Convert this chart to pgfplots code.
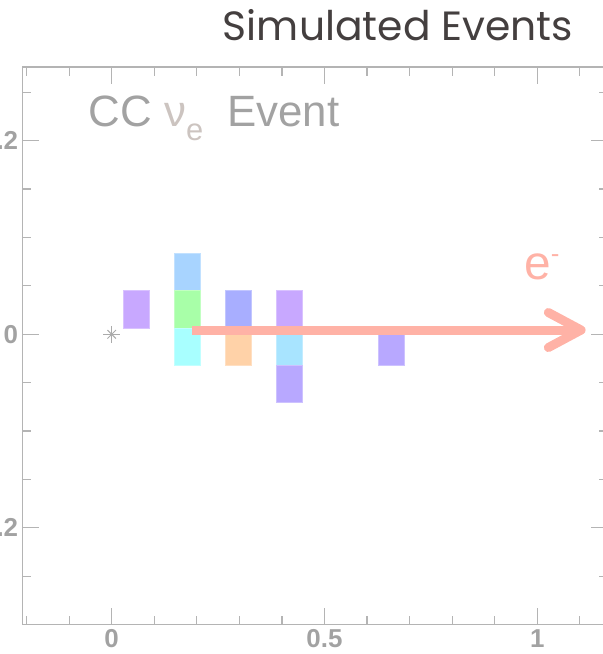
\documentclass[border=0pt]{standalone}
\usepackage{pgfplots}
\pgfplotsset{compat=1.18}
\usepackage{fontspec}
\setmainfont{Liberation Sans}
\newfontfamily\titlefont{Poppins}

\definecolor{frame}{HTML}{B4B4B4}
\definecolor{lbl}{HTML}{A2A2A2}
\definecolor{nulbl}{HTML}{CCC4C0}
\definecolor{ttl}{HTML}{443F3F}
\definecolor{trk}{HTML}{FFB2A6}
\definecolor{vtx}{HTML}{ABABAB}
\definecolor{cA}{HTML}{C8A8FF}
\definecolor{cB}{HTML}{A8D4FF}
\definecolor{cC}{HTML}{A8FFA8}
\definecolor{cD}{HTML}{A8FFFF}
\definecolor{cE}{HTML}{A8AEFF}
\definecolor{cF}{HTML}{FFD2A8}
\definecolor{cG}{HTML}{A8E4FF}
\definecolor{cH}{HTML}{B8A8FF}

% one filled detector cell: \cell{colour}{x1}{x2}{y1}{y2}
\newcommand{\cell}[5]{%
  \addplot[fill=#1, draw=#1!70!white, line width=0.6pt]
    coordinates {(#2,#4) (#3,#4) (#3,#5) (#2,#5)} -- cycle;}

\begin{document}
\begin{tikzpicture}
\begin{axis}[
  scale only axis,
  width=585.2bp, height=557.6bp,
  xmin=-0.21, xmax=1.165,
  ymin=-0.30, ymax=0.276,
  clip=false,
  axis line style={frame, line width=1.3bp},
  tick style={frame, line width=1.2bp},
  tick align=inside,
  major tick length=17bp,
  minor tick length=9bp,
  xtick={0,0.5,1},
  xticklabels={0,0.5,1},
  minor xtick={-0.2,-0.1,0.1,0.2,0.3,0.4,0.6,0.7,0.8,0.9,1.1},
  ytick={-0.2,0,0.2},
  yticklabels={-0.2,0,0.2},
  minor ytick={-0.25,-0.15,-0.1,-0.05,0.05,0.1,0.15,0.25},
  /pgf/number format/assume math mode=true,
  ticklabel style={font=\fontsize{26}{26}\selectfont\bfseries, text=lbl, inner sep=2bp},
  xticklabel style={yshift=-3bp},
  yticklabel style={xshift=-2bp},
]
% detector cells
\cell{cA}{0.0275}{0.0885}{0.0067}{0.0452}
\cell{cB}{0.1465}{0.2075}{0.0452}{0.0837}
\cell{cC}{0.1465}{0.2075}{0.0067}{0.0452}
\cell{cD}{0.1465}{0.2075}{-0.0318}{0.0067}
\cell{cE}{0.2670}{0.3280}{0.0067}{0.0452}
\cell{cF}{0.2670}{0.3280}{-0.0318}{0.0067}
\cell{cA}{0.3865}{0.4475}{0.0067}{0.0452}
\cell{cG}{0.3865}{0.4475}{-0.0318}{0.0067}
\cell{cH}{0.3865}{0.4475}{-0.0703}{-0.0318}
\cell{cH}{0.6260}{0.6870}{-0.0318}{0.0067}

% interaction vertex
\addplot[only marks, mark=+, mark size=8.5bp, vtx, line width=1bp] coordinates {(0,0)};
\addplot[only marks, mark=x, mark size=6bp, vtx, line width=1bp] coordinates {(0,0)};

% electron track
\addplot[trk, line width=9bp, line cap=butt] coordinates {(0.189,0.0044) (1.098,0.0044)};
\addplot[trk, line width=9bp, line cap=round, line join=round]
  coordinates {(1.026,0.0225) (1.103,0.0044) (1.026,-0.0137)};

\node[anchor=base west, text=trk, inner sep=0pt] at (axis cs:0.9688,0.0561)
  {\fontsize{48}{48}\selectfont e\raisebox{17bp}{\fontsize{26}{26}\selectfont -}};

\node[anchor=base west, inner sep=0pt, text=lbl] at (axis cs:-0.0545,0.2145)
  {\fontsize{44}{44}\selectfont CC \textcolor{nulbl}{ν\raisebox{-14bp}{\fontsize{31}{31}\selectfont e}}\hspace{0.55em}Event};

\node[anchor=base east, inner sep=0pt, text=ttl] at (axis cs:1.0845,0.303)
  {\titlefont\fontsize{41}{41}\selectfont Simulated Events};

\coordinate (tl) at (axis cs:-0.26245,0.34535);
\coordinate (br) at (axis cs:1.15437,-0.33027);
\end{axis}
\pgfresetboundingbox
\useasboundingbox (tl) rectangle (br);
\end{tikzpicture}
\end{document}
